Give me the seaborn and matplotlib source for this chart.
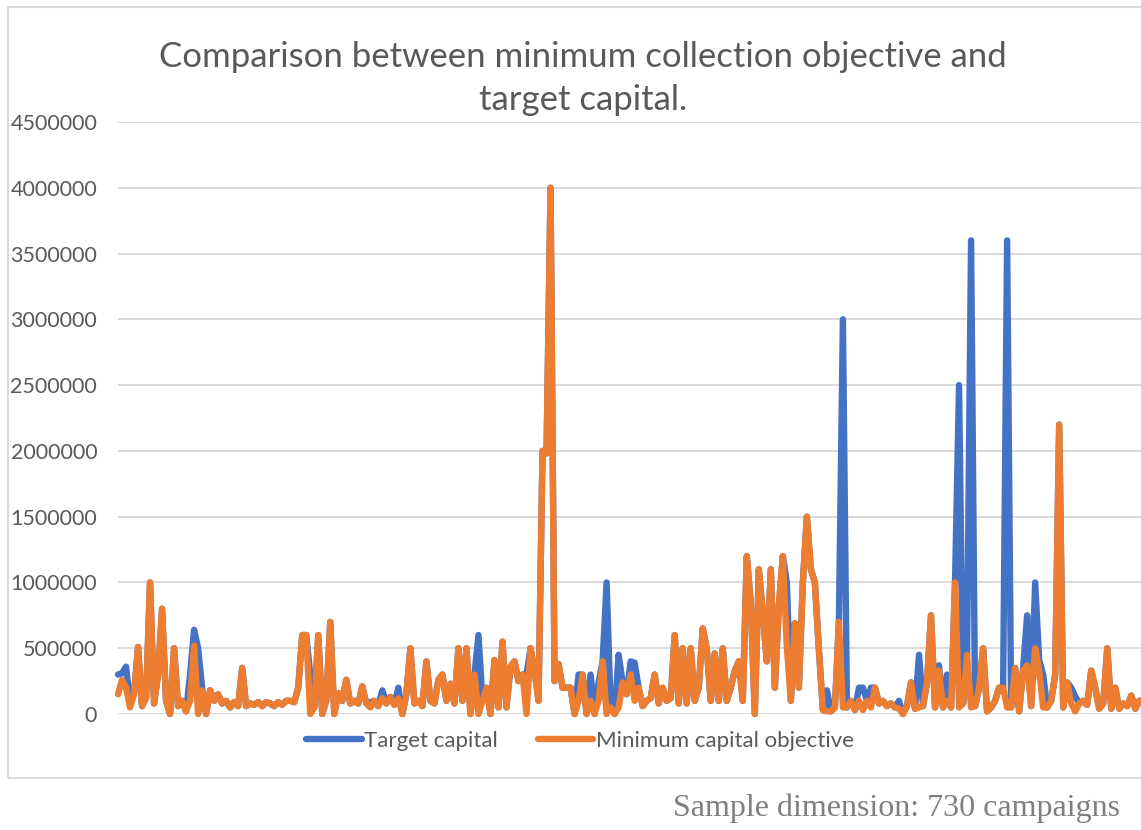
import numpy as np
import pandas as pd
import matplotlib
matplotlib.use("Agg")
import matplotlib.pyplot as plt
import seaborn as sns
from matplotlib.lines import Line2D
from matplotlib.patches import Rectangle

# Capital per campaign, in thousands
target_k = [
    300, 310, 360, 100, 150, 510, 60, 120, 1000, 80, 300, 800, 100, 0, 500, 60,
    100, 20, 300, 640, 500, 200, 0, 180, 100, 150, 80, 100, 50, 90, 60, 350,
    60, 80, 70, 90, 60, 90, 80, 60, 90, 70, 100, 100, 90, 200, 600, 600,
    300, 50, 600, 0, 100, 700, 0, 160, 100, 260, 80, 100, 80, 210, 80, 90,
    100, 60, 180, 80, 130, 70, 200, 0, 150, 500, 80, 100, 60, 400, 100, 80,
    260, 300, 100, 230, 80, 500, 100, 500, 0, 300, 600, 100, 200, 0, 410, 50,
    550, 50, 360, 400, 250, 300, 300, 500, 330, 100, 2000, 1980, 4000, 250, 380, 200,
    200, 200, 0, 300, 300, 0, 300, 0, 240, 400, 1000, 50, 0, 450, 240, 150,
    400, 390, 200, 60, 100, 120, 300, 80, 200, 100, 120, 600, 80, 500, 80, 500,
    100, 200, 650, 500, 100, 460, 100, 500, 100, 200, 330, 400, 100, 1200, 840, 0,
    1100, 770, 400, 1100, 200, 820, 1200, 1000, 100, 690, 200, 1000, 1500, 1100, 1000, 490,
    30, 180, 20, 50, 700, 3000, 50, 100, 30, 200, 200, 100, 200, 200, 80, 100,
    60, 80, 50, 100, 0, 60, 240, 40, 450, 60, 240, 750, 50, 370, 50, 300,
    50, 1000, 2500, 80, 450, 3600, 60, 200, 500, 20, 50, 100, 200, 200, 3600, 50,
    350, 20, 350, 750, 60, 1000, 410, 300, 50, 100, 300, 2200, 50, 240, 200, 135,
    80, 100, 70, 330, 200, 40, 80, 500, 40, 200, 40, 80, 60, 140, 40, 100, 100,
]

minimum_k = [
    150, 260, 200, 50, 150, 510, 60, 120, 1000, 80, 300, 800, 100, 0, 500, 60,
    100, 20, 100, 520, 0, 180, 0, 180, 100, 150, 80, 100, 50, 90, 60, 350,
    60, 80, 70, 90, 60, 90, 80, 60, 90, 70, 100, 100, 90, 200, 600, 600,
    0, 50, 600, 0, 100, 700, 0, 160, 100, 260, 80, 100, 80, 210, 80, 50,
    100, 60, 120, 80, 130, 70, 120, 0, 150, 500, 80, 100, 60, 400, 100, 80,
    260, 300, 100, 230, 80, 500, 100, 500, 0, 300, 0, 100, 200, 0, 410, 50,
    550, 50, 360, 400, 250, 300, 0, 500, 330, 100, 2000, 1980, 4000, 250, 380, 200,
    200, 200, 0, 100, 300, 0, 100, 0, 100, 400, 0, 50, 0, 50, 240, 150,
    300, 100, 200, 60, 100, 120, 300, 80, 200, 100, 120, 600, 80, 500, 80, 500,
    100, 200, 650, 500, 100, 460, 100, 500, 100, 200, 330, 400, 100, 1200, 840, 0,
    1100, 770, 400, 1100, 200, 820, 1200, 510, 100, 690, 200, 1000, 1500, 1100, 1000, 490,
    30, 20, 20, 50, 700, 50, 50, 100, 30, 100, 30, 100, 50, 200, 80, 100,
    60, 80, 50, 40, 0, 60, 240, 40, 50, 60, 240, 750, 50, 330, 50, 100,
    50, 1000, 50, 80, 450, 50, 60, 200, 500, 20, 50, 100, 200, 200, 50, 50,
    350, 20, 330, 370, 60, 500, 330, 50, 50, 100, 300, 2200, 50, 240, 80, 20,
    80, 100, 70, 330, 200, 40, 80, 500, 40, 200, 40, 80, 60, 140, 40, 100, 100,
]

series_names = ["Target capital", "Minimum capital objective"]
series_colors = ["#4472C4", "#ED7D31"]
y_ticks = [0, 500000, 1000000, 1500000, 2000000, 2500000, 3000000, 3500000, 4000000, 4500000]

n = len(target_k)
campaign = np.arange(n)
df = pd.DataFrame({
    "campaign": np.concatenate([campaign, campaign]),
    "capital": np.array(target_k + minimum_k, dtype=float) * 1000,
    "series": [series_names[0]] * n + [series_names[1]] * n,
})

sns.set_theme(style="white")
plt.rcParams["font.family"] = ["Lato", "DejaVu Sans"]

W, H = 1141, 830
fig = plt.figure(figsize=(W / 100, H / 100), dpi=100)
fig.patch.set_facecolor("white")

# chart frame
fig.patches.append(Rectangle((8 / W, 1 - 778 / H), (W - 8) / W + 0.01, (778 - 7) / H,
                             transform=fig.transFigure, fill=False,
                             edgecolor="#d9d9d9", linewidth=1.5))

ax = fig.add_axes([118 / W, 1 - 714 / H, 1 - 118 / W + 0.002, (714 - 122) / H])
sns.lineplot(data=df, x="campaign", y="capital", hue="series",
             hue_order=series_names, palette=series_colors,
             linewidth=4.6, sort=False, legend=False, ax=ax)
for ln in ax.lines:
    ln.set_solid_capstyle("round")
    ln.set_solid_joinstyle("round")
    ln.set_clip_on(False)

ax.set_xlim(0, n - 1)
ax.set_ylim(0, 4500000)
ax.set_yticks(y_ticks)
ax.set_yticklabels([str(v) for v in y_ticks])
ax.set_xticks([])
ax.set_xlabel("")
ax.set_ylabel("")
ax.yaxis.grid(True, color="#d9d9d9", linewidth=1.4)
ax.set_axisbelow(True)
for s in ax.spines.values():
    s.set_visible(False)
ax.tick_params(axis="y", length=0, pad=15, labelsize=15.5, labelcolor="#595959")

fig.text(583 / W, 1 - 57 / H, "Comparison between minimum collection objective and",
         ha="center", va="center", fontsize=25, color="#595959")
fig.text(583 / W, 1 - 100 / H, "target capital.",
         ha="center", va="center", fontsize=25, color="#595959")

handles = [Line2D([0], [0], color=c, linewidth=4.6, solid_capstyle="round") for c in series_colors]
fig.legend(handles, series_names, loc="center", bbox_to_anchor=(580 / W, 1 - 741 / H),
           ncol=2, frameon=False, fontsize=16, handlelength=2.5, handletextpad=0.1,
           columnspacing=1.8, labelcolor="#595959")

fig.text(1120 / W, 1 - 808 / H, "Sample dimension: 730 campaigns",
         ha="right", va="center", fontsize=23, color="#7f7f7f",
         family=["Liberation Serif", "DejaVu Serif"])

fig.savefig("out.png", dpi=100, facecolor="white")
